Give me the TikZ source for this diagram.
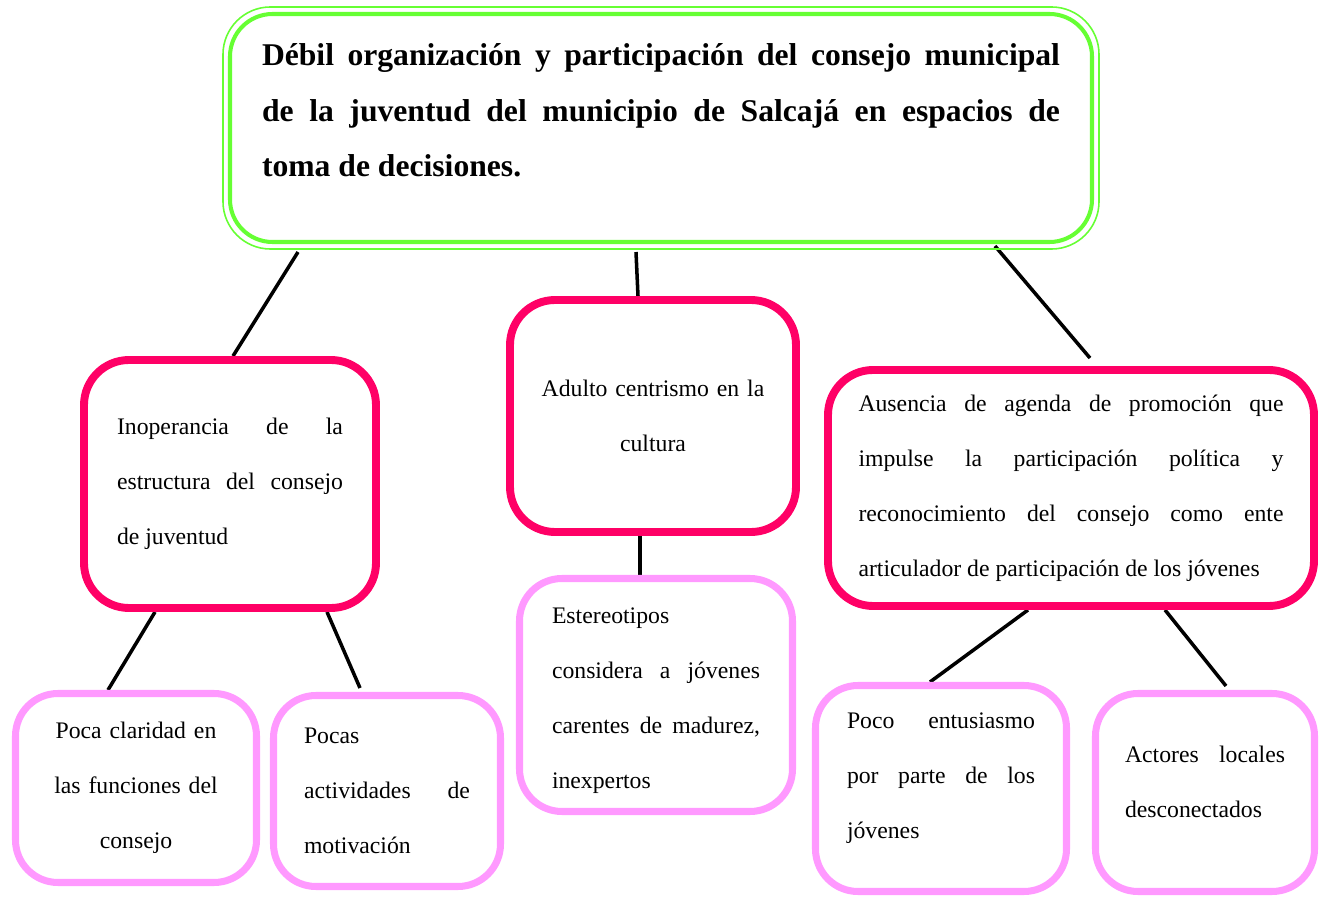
\documentclass[tikz,border=0pt]{standalone}
\usepackage{fontspec}
\setmainfont{Liberation Serif}
\definecolor{titlegreen}{HTML}{66FF33}
\definecolor{causepink}{HTML}{FF0066}
\definecolor{effectpink}{HTML}{FF99FF}
\hyphenpenalty=10000
\tolerance=10000
\hbadness=10000
\pgfdeclarelayer{background}
\pgfsetlayers{background,main}

\begin{document}
\begin{tikzpicture}[
  every node/.style={font=\fontsize{13.5}{31.3}\selectfont, inner sep=0pt},
  problem/.style={draw=titlegreen, line width=2.3pt, rounded corners=0.85cm,
    fill=white, inner xsep=0.64cm, inner ysep=0pt,
    font=\fontsize{18}{31.3}\selectfont\bfseries},
  cause/.style={draw=causepink, line width=4.5pt, rounded corners=0.9cm, fill=white},
  effect/.style={draw=effectpink, line width=4pt, rounded corners=0.85cm, fill=white},
  link/.style={line width=2pt, black},
]
\useasboundingbox (0,0) rectangle (26.4,-17.96);

% problema central
\node[problem] (top) at (13.22,-2.56)
  {\parbox[c][4.56cm][t]{15.96cm}{\rule{0pt}{1.04cm}Débil organización y participación del consejo municipal\linebreak
   de la juventud del municipio de Salcajá en espacios de\linebreak
   toma de decisiones.}};
\draw[titlegreen, line width=0.9pt, rounded corners=0.95cm]
  ([shift={(-0.1cm,0.1cm)}]top.north west) rectangle ([shift={(0.1cm,-0.1cm)}]top.south east);

% causas
\node[cause, minimum width=5.84cm, minimum height=4.96cm, text width=4.52cm, align=justify] (inop) at (4.60,-9.68)
  {Inoperancia de la\linebreak estructura del consejo\linebreak de juventud};
\node[cause, minimum width=5.72cm, minimum height=4.64cm, text width=4.6cm, align=center] (adult) at (13.06,-8.32)
  {Adulto centrismo en la\\ cultura};
\node[cause, minimum width=9.72cm, minimum height=4.72cm, text width=8.5cm, align=justify] (agenda) at (21.42,-9.76)
  {Ausencia de agenda de promoción que\linebreak impulse la participación política y\linebreak
   reconocimiento del consejo como ente\linebreak articulador de participación de los jóvenes};

% efectos
\node[effect, minimum width=4.82cm, minimum height=3.78cm, text width=4.2cm, align=center] (claridad) at (2.72,-15.76)
  {Poca claridad en\\ las funciones del\\ consejo};
\node[effect, minimum width=4.54cm, minimum height=3.82cm, text width=3.32cm, align=justify] (motiv) at (7.74,-15.82)
  {Pocas\linebreak actividades de\linebreak motivación};
\node[effect, minimum width=5.46cm, minimum height=4.66cm, text width=4.16cm, text depth=3.16cm, align=justify] (estereo) at (13.12,-13.90)
  {Estereotipos\linebreak considera a jóvenes\linebreak carentes de madurez,\linebreak inexpertos};
\node[effect, minimum width=5.02cm, minimum height=4.12cm, text width=3.76cm, text depth=2.73cm, align=justify] (entus) at (18.82,-15.77)
  {Poco entusiasmo\linebreak por parte de los\linebreak jóvenes};
\node[effect, minimum width=4.38cm, minimum height=3.96cm, text width=3.2cm, text depth=1.51cm, align=justify] (actores) at (24.10,-15.85)
  {Actores locales\linebreak desconectados};

\begin{pgfonlayer}{background}
\draw[link] ([xshift=-7.26cm,yshift=-0.16cm]top.south) -- ([xshift=0.06cm]inop.north);
\draw[link] ([xshift=-0.5cm,yshift=-0.16cm]top.south) -- ([xshift=-0.3cm]adult.north);
\draw[link] ([xshift=6.68cm,yshift=-0.04cm]top.south) -- ([xshift=0.38cm,yshift=0.16cm]agenda.north);
\draw[link] ([xshift=-1.5cm]inop.south) -- ([xshift=-0.56cm]claridad.north);
\draw[link] ([xshift=1.94cm]inop.south) -- ([xshift=-0.54cm,yshift=0.08cm]motiv.north);
\draw[link] ([xshift=-0.26cm]adult.south) -- ([xshift=-0.32cm]estereo.north);
\draw[link] ([xshift=-0.86cm]agenda.south) -- ([xshift=-0.22cm]entus.north);
\draw[link] ([xshift=1.88cm]agenda.south) -- ([xshift=0.42cm,yshift=0.08cm]actores.north);
\end{pgfonlayer}

\end{tikzpicture}
\end{document}
